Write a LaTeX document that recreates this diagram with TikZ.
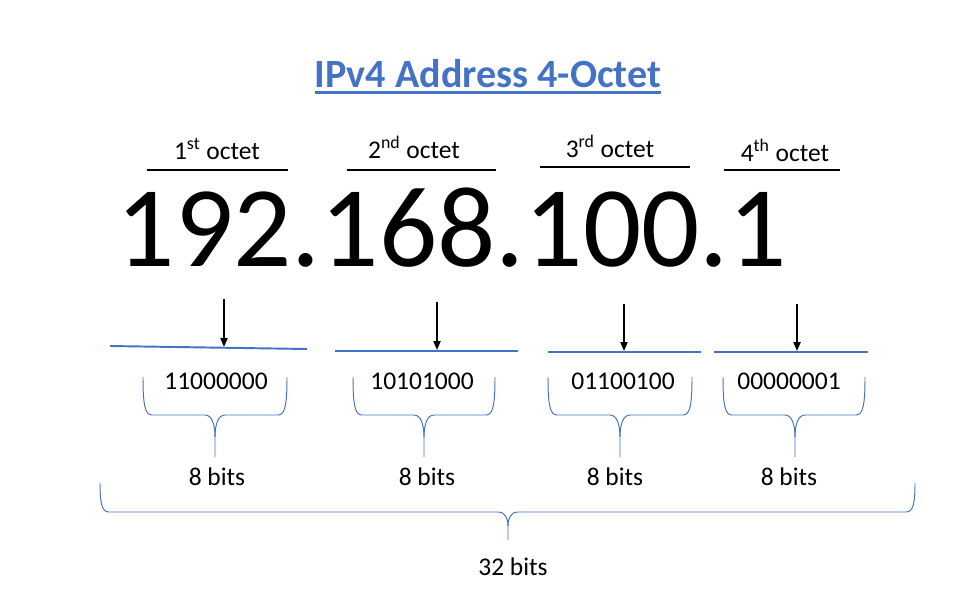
\documentclass[tikz,border=0pt]{standalone}
\usepackage{fontspec}
\setmainfont{Carlito}
\usetikzlibrary{positioning,arrows.meta}
\definecolor{officeblue}{RGB}{68,114,196}

\begin{document}
\begin{tikzpicture}[x=0.02cm,y=-0.02cm,
    octlbl/.style={anchor=base, inner sep=0pt, font=\fontsize{14.5}{17}\selectfont},
    bitlbl/.style={anchor=base, inner sep=0pt, font=\fontsize{14.5}{17}\selectfont},
    octline/.style={line width=0.9pt, black},
    blueline/.style={line width=1.1pt, officeblue},
    bracepath/.style={line width=0.55pt, officeblue},
    downarrow/.style={-{Triangle[length=5pt,width=4pt]}, line width=0.9pt, black}]
    \useasboundingbox (0,0) rectangle (967,600);

    % Title
    \node[anchor=base, inner sep=0pt, text=officeblue,
          font=\fontsize{22.8}{27}\selectfont\bfseries] (title) at (488,87) {IPv4 Address 4-Octet};
    \draw[officeblue, line width=1.4pt] ([yshift=-3.2pt]title.base west) -- ([yshift=-3.2pt]title.base east);

    % Octet headings
    \foreach \i/\x/\y/\l/\r/\u/\txt in {1/217/159/147/288/170/1\textsuperscript{st},
                                         2/414/158/347/496/170/2\textsuperscript{nd},
                                         3/610/157/540/690/167/3\textsuperscript{rd},
                                         4/785/161/724/840/170/4\textsuperscript{th}} {
        \node[octlbl] (oct\i) at (\x,\y) {\txt\ octet};
        \draw[octline] (\l,\u) -- (\r,\u);
    }

    % Address
    \node[anchor=base, inner sep=0pt, font=\fontsize{65.5}{72}\selectfont] (addr) at (452,266) {192.168.100.1};

    % Arrows and blue lines
    \foreach \i/\x/\ya/\yb/\l/\ly/\r/\ry in {1/224/299/347/110/346/307/349,
                                              2/437/302/350/335/351/518/351,
                                              3/624/304/351/548/352/701/352,
                                              4/797/304/351/714/352/868/352} {
        \coordinate (top\i) at (\x,\ya);
        \coordinate (bot\i) at (\x,\yb);
        \draw[blueline] (\l,\ly) -- (\r,\ry);
        \draw[downarrow] (top\i) -- (bot\i);
    }

    % Binary values, braces and 8 bits
    \foreach \i/\bx/\L/\R/\M/\ex/\v in {1/216/143/287/215/217/11000000,
                                          2/422/353/495/424/427/10101000,
                                          3/623/548/692/620/615/01100100,
                                          4/789/723/865/795/789/00000001} {
        \node[bitlbl] (bin\i) at (\bx,389) {\v};
        \draw[bracepath] (\L,377) .. controls (\L,405) and (\L+2,415) .. (\L+9,415)
            -- (\M-10,415) .. controls (\M-3,415) and (\M,425) .. (\M,437) -- (\M,457);
        \draw[bracepath] (\R,377) .. controls (\R,405) and (\R-2,415) .. (\R-9,415)
            -- (\M+10,415) .. controls (\M+3,415) and (\M,425) .. (\M,437);
        \node[bitlbl] (eight\i) at (\ex,485) {8 bits};
    }

    % 32 bits brace
    \draw[bracepath] (100,483) .. controls (100,504) and (102,512) .. (109,512)
        -- (498,512) .. controls (505,512) and (508,518) .. (508,526) -- (508,540);
    \draw[bracepath] (915,483) .. controls (915,504) and (913,512) .. (906,512)
        -- (518,512) .. controls (511,512) and (508,518) .. (508,526);
    \node[bitlbl] (total) at (513,575) {32 bits};
\end{tikzpicture}
\end{document}
